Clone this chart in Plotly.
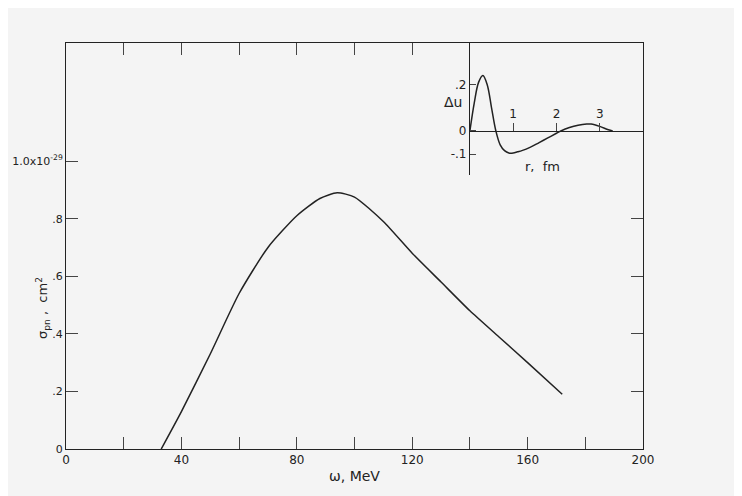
import plotly.graph_objects as go

omega = [33, 40, 50, 60, 70, 80, 88, 94, 100, 110, 120, 130, 140, 150, 160, 172]
sigma = [0.0, 0.13, 0.33, 0.54, 0.70, 0.81, 0.87, 0.89, 0.875, 0.79, 0.68, 0.58, 0.48, 0.39, 0.30, 0.19]

r = [0.0, 0.1, 0.2, 0.3, 0.4, 0.5, 0.6, 0.7, 0.8, 0.9, 1.0, 1.1, 1.2, 1.4, 1.6, 1.8, 2.0, 2.1, 2.3, 2.5, 2.7, 2.8, 3.0, 3.2, 3.3]
du = [0.0, 0.12, 0.21, 0.24, 0.20, 0.10, 0.0, -0.06, -0.085, -0.095, -0.095, -0.09, -0.085, -0.07, -0.05, -0.03, -0.01, 0.0, 0.015, 0.025, 0.03, 0.03, 0.02, 0.005, 0.0]

x_ticks = list(range(0, 201, 20))
x_labels = [str(v) if v % 40 == 0 else "" for v in x_ticks]
y_ticks = [0, 0.2, 0.4, 0.6, 0.8, 1.0]
y_labels = ["0", ".2", ".4", ".6", ".8", "1.0x10<sup>-29</sup>"]

fig = go.Figure()
fig.add_trace(go.Scatter(x=omega, y=sigma, mode="lines", line=dict(color="#222", width=1.5, shape="spline", smoothing=0.6), xaxis="x", yaxis="y"))
fig.add_trace(go.Scatter(x=r, y=du, mode="lines", line=dict(color="#222", width=1.5, shape="spline"), xaxis="x2", yaxis="y2"))

fnt = dict(family="DejaVu Sans", size=12, color="#222")
fig.update_layout(
    width=742, height=496, showlegend=False,
    paper_bgcolor="#f4f4f4", plot_bgcolor="#f4f4f4",
    margin=dict(l=58, r=107, t=35, b=55, autoexpand=False),
    font=fnt,
    xaxis=dict(domain=[0, 1], range=[0, 200], tickvals=x_ticks, ticktext=x_labels, ticks="inside", ticklen=12,
               showline=True, linecolor="#222", mirror="ticks", showgrid=False, zeroline=False, automargin=False,
               title=dict(text="ω, MeV", standoff=4)),
    yaxis=dict(domain=[0, 1], range=[0, 1.41], tickvals=y_ticks, ticktext=y_labels, ticks="inside", ticklen=12,
               showline=True, linecolor="#222", mirror="ticks", showgrid=False, zeroline=False, automargin=False,
               tickfont=dict(size=11)),
    xaxis2=dict(domain=[0.70, 1], range=[0, 4], anchor="free", position=0.783, side="top",
                tickvals=[1, 2, 3], ticks="outside", ticklen=8, showline=True, linecolor="#222",
                showgrid=False, zeroline=False),
    yaxis2=dict(domain=[0.675, 1], range=[-0.19, 0.38], anchor="x2", tickvals=[-0.1, 0, 0.2],
                ticktext=["-.1", "0", ".2"], ticks="inside", ticklen=6, showline=True, linecolor="#222",
                showgrid=False, zeroline=False),
    annotations=[
        dict(text="σ<sub>pn</sub> ,  cm<sup>2</sup>", x=24, y=(441 - 300), xref="paper", yref="paper", showarrow=False,
             textangle=-90, font=dict(size=13)),
        dict(text="Δu", x=0.69, y=0.88, xref="paper", yref="paper", showarrow=False, xanchor="right", font=dict(size=14)),
        dict(text="r,  fm", x=0.86, y=0.72, xref="paper", yref="paper", showarrow=False, font=dict(size=13)),
    ],
)
# place y-title annotation in paper coords computed from pixel position
fig.layout.annotations[0].x = (24 - 58) / 577
fig.layout.annotations[0].y = (441 - 300) / 406
fig.write_html("out.html")
